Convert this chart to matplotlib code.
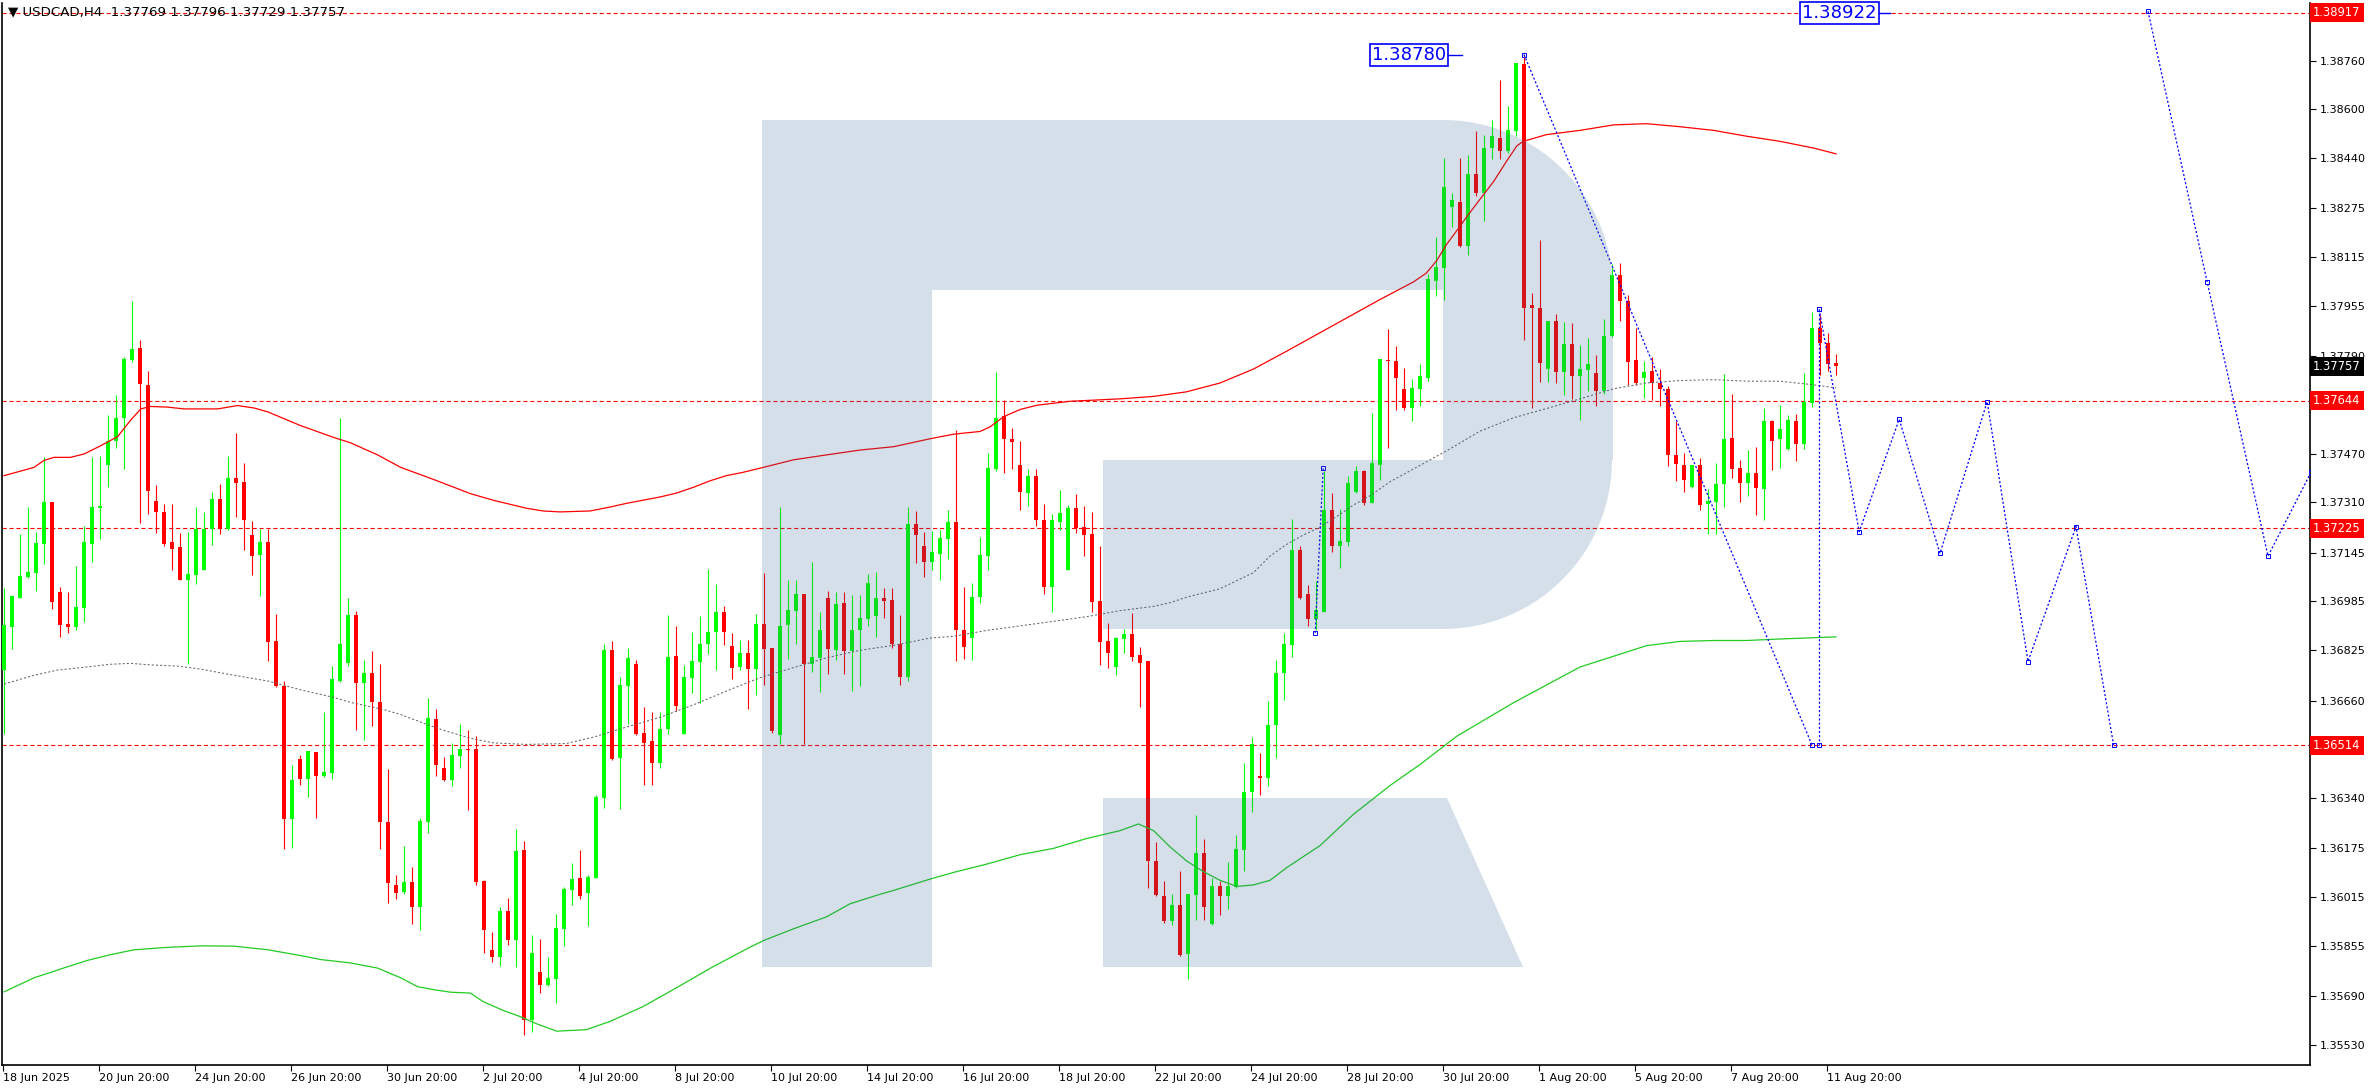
import numpy as np
import matplotlib
matplotlib.use("Agg")
import matplotlib.pyplot as plt
from matplotlib.patches import Polygon

plt.rcParams['font.family'] = ['DejaVu Sans']
plt.rcParams['lines.scale_dashes'] = False

# USDCAD H4 candles, first bar 18 Jun 2025 20:00
opens = [1.36760, 1.36901, 1.36998, 1.37067, 1.37080, 1.37174, 1.37312, 1.37015, 1.36912, 1.36901,
         1.36963, 1.37174, 1.37291, 1.37432, 1.37511, 1.37586, 1.37777, 1.37816, 1.37696, 1.37315,
         1.37279, 1.37180, 1.37164, 1.37057, 1.37073, 1.37089, 1.37224, 1.37321, 1.37224, 1.37390,
         1.37377, 1.37203, 1.37138, 1.37180, 1.36857, 1.36708, 1.36271, 1.36469, 1.36404, 1.36492,
         1.36413, 1.36421, 1.36724, 1.36782, 1.36940, 1.36718, 1.36750, 1.36656, 1.36263, 1.36055,
         1.36033, 1.36065, 1.35981, 1.36263, 1.36599, 1.36437, 1.36398, 1.36479, 1.36502, 1.36502,
         1.36068, 1.35840, 1.35819, 1.35969, 1.35875, 1.36169, 1.35612, 1.35768, 1.35726, 1.35745,
         1.35911, 1.36039, 1.36078, 1.36029, 1.36078, 1.36340, 1.36825, 1.36473, 1.36708, 1.36779,
         1.36553, 1.36528, 1.36456, 1.36567, 1.36805, 1.36550, 1.36734, 1.36786, 1.36844, 1.36884,
         1.36950, 1.36838, 1.36770, 1.36815, 1.36763, 1.36912, 1.36831, 1.36547, 1.36909, 1.36953,
         1.37008, 1.36779, 1.36799, 1.36995, 1.36825, 1.36979, 1.36821, 1.36890, 1.36927, 1.36937,
         1.36998, 1.36989, 1.36847, 1.36737, 1.37239, 1.37167, 1.37116, 1.37141, 1.37190, 1.37245,
         1.36890, 1.36865, 1.36999, 1.37134, 1.37419, 1.37593, 1.37519, 1.37433, 1.37341, 1.37398,
         1.37254, 1.37031, 1.37245, 1.37087, 1.37291, 1.37230, 1.37206, 1.36987, 1.36856, 1.36769,
         1.36861, 1.36879, 1.36810, 1.36790, 1.36132, 1.36019, 1.35937, 1.35989, 1.35827, 1.36022,
         1.36161, 1.35928, 1.36050, 1.36019, 1.36047, 1.36170, 1.36360, 1.36412, 1.36405, 1.36581,
         1.36751, 1.36842, 1.37155, 1.37008, 1.36926, 1.36952, 1.37286, 1.37167, 1.37180, 1.37345,
         1.37413, 1.37308, 1.37433, 1.37777, 1.37774, 1.37682, 1.37620, 1.37682, 1.37720, 1.38036,
         1.38081, 1.38281, 1.38297, 1.38153, 1.38389, 1.38324, 1.38474, 1.38506, 1.38463, 1.38530,
         1.38749, 1.37958, 1.37949, 1.37748, 1.37904, 1.37737, 1.37831, 1.37726, 1.37745, 1.37735,
         1.37676, 1.37857, 1.38058, 1.37971, 1.37777, 1.37720, 1.37740, 1.37702, 1.37682, 1.37467,
         1.37433, 1.37360, 1.37433, 1.37305, 1.37313, 1.37369, 1.37520, 1.37423, 1.37375, 1.37407,
         1.37354, 1.37577, 1.37517, 1.37486, 1.37577, 1.37502, 1.37635, 1.37884, 1.37832, 1.37769]
highs = [1.37028, 1.37007, 1.37206, 1.37295, 1.37213, 1.37458, 1.37312, 1.37034, 1.37015, 1.37102,
         1.37232, 1.37458, 1.37461, 1.37596, 1.37661, 1.37787, 1.37971, 1.37842, 1.37742, 1.37367,
         1.37305, 1.37305, 1.37209, 1.37213, 1.37295, 1.37279, 1.37344, 1.37370, 1.37461, 1.37539,
         1.37441, 1.37248, 1.37222, 1.37224, 1.36943, 1.36724, 1.36450, 1.36482, 1.36495, 1.36492,
         1.36623, 1.36773, 1.37586, 1.36995, 1.36953, 1.36792, 1.36821, 1.36779, 1.36434, 1.36088,
         1.36182, 1.36114, 1.36273, 1.36669, 1.36633, 1.36476, 1.36521, 1.36584, 1.36563, 1.36544,
         1.36072, 1.35901, 1.35981, 1.36013, 1.36237, 1.36198, 1.35892, 1.35878, 1.35817, 1.35960,
         1.36049, 1.36127, 1.36169, 1.36088, 1.36349, 1.36844, 1.36854, 1.36737, 1.36831, 1.36792,
         1.36640, 1.36623, 1.36623, 1.36940, 1.36903, 1.36776, 1.36886, 1.36937, 1.37093, 1.37044,
         1.36969, 1.36880, 1.36860, 1.36860, 1.36943, 1.37080, 1.36834, 1.37295, 1.37057, 1.37054,
         1.37008, 1.37115, 1.36950, 1.37021, 1.37015, 1.37015, 1.37005, 1.37005, 1.37076, 1.37083,
         1.37028, 1.37028, 1.36940, 1.37295, 1.37282, 1.37213, 1.37215, 1.37221, 1.37285, 1.37548,
         1.37033, 1.37045, 1.37196, 1.37473, 1.37737, 1.37647, 1.37554, 1.37512, 1.37419, 1.37419,
         1.37305, 1.37273, 1.37351, 1.37302, 1.37338, 1.37297, 1.37279, 1.37167, 1.36914, 1.36867,
         1.36894, 1.36946, 1.36836, 1.36790, 1.36197, 1.36068, 1.36025, 1.36099, 1.36025, 1.36283,
         1.36205, 1.36077, 1.36068, 1.36131, 1.36218, 1.36456, 1.36540, 1.36488, 1.36659, 1.36793,
         1.36882, 1.37257, 1.37167, 1.37039, 1.37051, 1.37412, 1.37341, 1.37288, 1.37398, 1.37429,
         1.37416, 1.37603, 1.37780, 1.37878, 1.37822, 1.37751, 1.37714, 1.37765, 1.38061, 1.38182,
         1.38442, 1.38325, 1.38439, 1.38451, 1.38530, 1.38517, 1.38566, 1.38696, 1.38612, 1.38752,
         1.38780, 1.37996, 1.38170, 1.37904, 1.37927, 1.37901, 1.37898, 1.37828, 1.37849, 1.37795,
         1.37911, 1.38094, 1.38096, 1.37992, 1.37881, 1.37774, 1.37787, 1.37748, 1.37692, 1.37578,
         1.37471, 1.37433, 1.37457, 1.37354, 1.37439, 1.37730, 1.37667, 1.37449, 1.37482, 1.37493,
         1.37619, 1.37580, 1.37629, 1.37598, 1.37601, 1.37736, 1.37936, 1.37925, 1.37865, 1.37796]
lows = [1.36549, 1.36828, 1.36995, 1.37063, 1.37021, 1.37109, 1.36961, 1.36869, 1.36882, 1.36891,
        1.36917, 1.37115, 1.37190, 1.37360, 1.37490, 1.37420, 1.37771, 1.37242, 1.37271, 1.37209,
        1.37167, 1.37089, 1.37054, 1.36781, 1.37044, 1.37089, 1.37170, 1.37205, 1.37221, 1.37263,
        1.37154, 1.37073, 1.37002, 1.36789, 1.36705, 1.36172, 1.36176, 1.36382, 1.36343, 1.36275,
        1.36408, 1.36401, 1.36721, 1.36773, 1.36563, 1.36531, 1.36576, 1.36172, 1.35997, 1.36010,
        1.36026, 1.35927, 1.35908, 1.36224, 1.36414, 1.36395, 1.36378, 1.36437, 1.36300, 1.36055,
        1.35832, 1.35802, 1.35789, 1.35859, 1.35786, 1.35564, 1.35573, 1.35700, 1.35723, 1.35666,
        1.35856, 1.35989, 1.36010, 1.35921, 1.36078, 1.36307, 1.36466, 1.36304, 1.36584, 1.36547,
        1.36382, 1.36382, 1.36440, 1.36550, 1.36627, 1.36550, 1.36685, 1.36653, 1.36812, 1.36760,
        1.36841, 1.36731, 1.36760, 1.36633, 1.36679, 1.36711, 1.36554, 1.36516, 1.36796, 1.36847,
        1.36516, 1.36753, 1.36688, 1.36747, 1.36792, 1.36747, 1.36692, 1.36708, 1.36903, 1.36870,
        1.36930, 1.36831, 1.36711, 1.36724, 1.37112, 1.37067, 1.37087, 1.37056, 1.37126, 1.36790,
        1.36796, 1.36793, 1.36980, 1.37090, 1.37413, 1.37407, 1.37419, 1.37285, 1.37297, 1.37233,
        1.37010, 1.36949, 1.37221, 1.37087, 1.37209, 1.37134, 1.36949, 1.36778, 1.36766, 1.36743,
        1.36816, 1.36789, 1.36640, 1.36045, 1.36018, 1.35931, 1.35925, 1.35821, 1.35747, 1.35940,
        1.35940, 1.35925, 1.35955, 1.35976, 1.36044, 1.36099, 1.36293, 1.36351, 1.36381, 1.36470,
        1.36663, 1.36802, 1.36993, 1.36903, 1.36891, 1.36949, 1.37146, 1.37096, 1.37167, 1.37342,
        1.37303, 1.37308, 1.37384, 1.37490, 1.37615, 1.37615, 1.37577, 1.37626, 1.37708, 1.37986,
        1.37974, 1.38215, 1.38147, 1.38123, 1.38316, 1.38233, 1.38436, 1.38436, 1.38457, 1.38512,
        1.37843, 1.37619, 1.37705, 1.37705, 1.37701, 1.37661, 1.37651, 1.37580, 1.37676, 1.37625,
        1.37667, 1.37854, 1.37904, 1.37696, 1.37695, 1.37653, 1.37647, 1.37625, 1.37430, 1.37382,
        1.37344, 1.37357, 1.37286, 1.37207, 1.37207, 1.37296, 1.37389, 1.37311, 1.37330, 1.37268,
        1.37251, 1.37417, 1.37424, 1.37482, 1.37445, 1.37484, 1.37623, 1.37727, 1.37742, 1.37729]
closes = [1.36909, 1.37002, 1.37068, 1.37083, 1.37177, 1.37312, 1.36984, 1.36908, 1.36901, 1.36966,
          1.37180, 1.37295, 1.37299, 1.37513, 1.37586, 1.37781, 1.37813, 1.37698, 1.37349, 1.37278,
          1.37174, 1.37157, 1.37057, 1.37076, 1.37224, 1.37224, 1.37321, 1.37224, 1.37390, 1.37375,
          1.37253, 1.37135, 1.37180, 1.36851, 1.36708, 1.36271, 1.36398, 1.36404, 1.36495, 1.36414,
          1.36424, 1.36731, 1.36847, 1.36940, 1.36718, 1.36750, 1.36656, 1.36260, 1.36062, 1.36029,
          1.36065, 1.35981, 1.36266, 1.36602, 1.36447, 1.36398, 1.36482, 1.36502, 1.36497, 1.36065,
          1.35908, 1.35819, 1.35969, 1.35875, 1.36166, 1.35612, 1.35830, 1.35726, 1.35749, 1.35914,
          1.36042, 1.36075, 1.36017, 1.36081, 1.36343, 1.36825, 1.36469, 1.36711, 1.36799, 1.36550,
          1.36521, 1.36456, 1.36567, 1.36802, 1.36643, 1.36737, 1.36789, 1.36847, 1.36886, 1.36950,
          1.36886, 1.36766, 1.36815, 1.36763, 1.36912, 1.36828, 1.36560, 1.36906, 1.36956, 1.37008,
          1.36779, 1.36802, 1.36890, 1.36828, 1.36976, 1.36821, 1.36893, 1.36930, 1.37047, 1.36998,
          1.36985, 1.36844, 1.36737, 1.37239, 1.37203, 1.37115, 1.37148, 1.37193, 1.37245, 1.36890,
          1.36835, 1.36999, 1.37137, 1.37422, 1.37587, 1.37519, 1.37509, 1.37345, 1.37398, 1.37254,
          1.37031, 1.37251, 1.37276, 1.37291, 1.37226, 1.37203, 1.36984, 1.36853, 1.36816, 1.36864,
          1.36879, 1.36804, 1.36784, 1.36132, 1.36022, 1.35937, 1.35989, 1.35824, 1.36025, 1.36161,
          1.35981, 1.36050, 1.36019, 1.36050, 1.36173, 1.36360, 1.36517, 1.36405, 1.36581, 1.36752,
          1.36845, 1.37155, 1.36996, 1.36926, 1.36958, 1.37286, 1.37167, 1.37183, 1.37375, 1.37413,
          1.37308, 1.37438, 1.37780, 1.37773, 1.37720, 1.37620, 1.37685, 1.37726, 1.38042, 1.38084,
          1.38346, 1.38302, 1.38153, 1.38389, 1.38324, 1.38474, 1.38514, 1.38463, 1.38533, 1.38752,
          1.37949, 1.37948, 1.37768, 1.37904, 1.37737, 1.37831, 1.37726, 1.37748, 1.37765, 1.37676,
          1.37857, 1.38058, 1.37971, 1.37771, 1.37702, 1.37737, 1.37702, 1.37682, 1.37467, 1.37435,
          1.37384, 1.37433, 1.37303, 1.37316, 1.37369, 1.37518, 1.37420, 1.37375, 1.37407, 1.37357,
          1.37577, 1.37512, 1.37550, 1.37580, 1.37502, 1.37639, 1.37884, 1.37832, 1.37764, 1.37757]

# upper envelope (red), read at bar positions
red_x = [0, 3.75, 5, 6.25, 8.3, 10, 12, 14.2, 15.8, 17.1, 18.3, 20.4, 22.5, 26.7, 29.2, 31.25, 33, 37,
         41.25, 43.3, 46.7, 49.6, 53.75, 58.3, 61.2, 65.3, 67.4, 69.5, 73.25, 75.75, 77.8, 82, 84.1,
         86.2, 88.25, 90.3, 92.4, 94.9, 98.7, 102.8, 107, 111.2, 115.75, 118.7, 122, 123.25, 125, 127,
         129.1, 133.25, 139.5, 143.7, 147.8, 152, 156.2, 160.3, 164.5, 172, 174.1, 176.2, 177.8, 179.1,
         180.3, 181.6, 182.8, 184.5, 186.2, 187.8, 189.1, 189.9, 192.8, 197, 201.2, 205.3, 209.5,
         213.7, 217.8, 222, 226.2, 229]
red_y = [1.37398, 1.37425, 1.37448, 1.37458, 1.37458, 1.37469, 1.37495, 1.37526, 1.37579, 1.37617,
         1.37625, 1.37623, 1.37617, 1.37617, 1.37628, 1.37620, 1.37607, 1.37563, 1.37523, 1.37506,
         1.37466, 1.37425, 1.37385, 1.37339, 1.37317, 1.37291, 1.37282, 1.37279, 1.37282, 1.37295,
         1.37307, 1.37328, 1.37341, 1.37360, 1.37381, 1.37398, 1.37409, 1.37425, 1.37450, 1.37466,
         1.37482, 1.37493, 1.37519, 1.37534, 1.37543, 1.37558, 1.37592, 1.37615, 1.37629, 1.37642,
         1.37650, 1.37658, 1.37673, 1.37702, 1.37748, 1.37806, 1.37867, 1.37976, 1.38005, 1.38034,
         1.38063, 1.38104, 1.38156, 1.38202, 1.38246, 1.38305, 1.38363, 1.38429, 1.38480, 1.38495,
         1.38517, 1.38531, 1.38549, 1.38553, 1.38543, 1.38531, 1.38512, 1.38495, 1.38473, 1.38454]

# lower envelope (green)
green_x = [0, 3.75, 7.9, 10.4, 13.3, 16.25, 20.4, 24.6, 28.75, 33, 37.1, 39.6, 43.3, 46.7, 49.6,
           51.7, 53.75, 55.8, 58.3, 59.9, 62.4, 64.5, 66.6, 69.1, 72.8, 75.75, 79.9, 84.1, 88.25,
           92.4, 94.9, 98.7, 102.8, 105.75, 109.1, 111.2, 115.75, 118.7, 122.8, 127, 131.2, 135.3,
           139.5, 141.8, 143.7, 145.75, 147.8, 149.9, 152, 154.1, 156.2, 158.25, 160.3, 164.5, 168.7,
           173.25, 177, 181.6, 188.7, 197, 205.3, 209.5, 213.7, 217.8, 222, 229]
green_y = [1.35704, 1.35750, 1.35786, 1.35807, 1.35826, 1.35842, 1.35850, 1.35855, 1.35854, 1.35842,
           1.35823, 1.35810, 1.35799, 1.35782, 1.35750, 1.35721, 1.35711, 1.35703, 1.35700, 1.35672,
           1.35643, 1.35623, 1.35599, 1.35575, 1.35580, 1.35607, 1.35656, 1.35718, 1.35781, 1.35839,
           1.35872, 1.35911, 1.35950, 1.35993, 1.36021, 1.36037, 1.36074, 1.36096, 1.36123, 1.36154,
           1.36175, 1.36207, 1.36233, 1.36255, 1.36233, 1.36180, 1.36134, 1.36099, 1.36070, 1.36050,
           1.36055, 1.36070, 1.36111, 1.36184, 1.36287, 1.36381, 1.36450, 1.36543, 1.36653, 1.36770,
           1.36840, 1.36854, 1.36857, 1.36857, 1.36862, 1.36869]

# middle line (grey dotted)
mid_x = [0, 3.75, 6.7, 10, 13.3, 15.8, 18.3, 21.7, 24.6, 28.75, 33, 37.1, 41.25, 43.3, 47.5, 49.6,
         52.9, 55, 58.3, 61.2, 65.3, 70.3, 73.7, 77.8, 82, 86.2, 90.3, 94.5, 98.7, 102.8, 107, 111.2,
         115.75, 118.7, 122.8, 127, 131.2, 135.3, 139.5, 143.7, 145.75, 147.8, 152, 156.2, 158.25,
         160.3, 162.4, 164.5, 167, 168.7, 170.75, 173.25, 176.2, 180.3, 184.5, 188.7, 192.8, 197,
         201.2, 205.3, 209.5, 213.7, 217.8, 222, 226.2, 229]
mid_y = [1.36714, 1.36743, 1.36760, 1.36769, 1.36779, 1.36782, 1.36777, 1.36773, 1.36763, 1.36743,
         1.36724, 1.36695, 1.36670, 1.36654, 1.36630, 1.36614, 1.36581, 1.36562, 1.36536, 1.36521,
         1.36516, 1.36519, 1.36540, 1.36573, 1.36605, 1.36646, 1.36691, 1.36735, 1.36768, 1.36800,
         1.36825, 1.36841, 1.36865, 1.36871, 1.36890, 1.36905, 1.36920, 1.36935, 1.36955, 1.36969,
         1.36981, 1.36999, 1.37027, 1.37080, 1.37134, 1.37172, 1.37203, 1.37229, 1.37271, 1.37302,
         1.37332, 1.37378, 1.37420, 1.37479, 1.37544, 1.37588, 1.37618, 1.37650, 1.37683, 1.37702,
         1.37710, 1.37713, 1.37708, 1.37708, 1.37696, 1.37686]

# horizontal levels and forecast paths
levels = [1.38917, 1.37644, 1.37225, 1.36514]
last_price = 1.37757
drop_x = [190, 226]
drop_y = [1.38780, 1.36514]
vert_x = [226.9, 226.9]
vert_y = [1.36514, 1.37944]
zig_x = [226.9, 231.9, 236.9, 242, 247.9, 253, 259, 263.7]
zig_y = [1.37944, 1.37214, 1.37583, 1.37143, 1.37641, 1.36788, 1.37231, 1.36514]
far_x = [268, 275.4, 283, 288.4]
far_y = [1.38922, 1.38033, 1.37134, 1.37410]
small_x = [163.9, 164.9]
small_y = [1.36882, 1.37424]

date_labels = ['18 Jun 2025', '20 Jun 20:00', '24 Jun 20:00', '26 Jun 20:00', '30 Jun 20:00',
               '2 Jul 20:00', '4 Jul 20:00', '8 Jul 20:00', '10 Jul 20:00', '14 Jul 20:00',
               '16 Jul 20:00', '18 Jul 20:00', '22 Jul 20:00', '24 Jul 20:00', '28 Jul 20:00',
               '30 Jul 20:00', '1 Aug 20:00', '5 Aug 20:00', '7 Aug 20:00', '11 Aug 20:00']
price_ticks = [1.38760, 1.38600, 1.38440, 1.38275, 1.38115, 1.37955, 1.37790, 1.37470,
               1.37310, 1.37145, 1.36985, 1.36825, 1.36660, 1.36340, 1.36175, 1.36015,
               1.35855, 1.35690, 1.35530]

W, H = 2376, 1090
L, R, T, B = 2, 2310, 3, 1065
fig = plt.figure(figsize=(W / 100, H / 100), dpi=100)
ax = fig.add_axes([L / W, (H - B) / H, (R - L) / W, (B - T) / H])
ax.set_xlim(-0.25, 288.25)
ax.set_ylim(1.35464, 1.38949)


def pix(x, y):
    return ((x - L) / (R - L), (B - y) / (B - T))


o = np.array(opens)
h = np.array(highs)
lo = np.array(lows)
c = np.array(closes)
idx = np.arange(len(o))
col = np.where(c >= o, '#00ff00', '#ff0000')
ax.vlines(idx, lo, h, colors=col, lw=0.8, zorder=3)
ax.bar(idx, np.maximum(np.abs(c - o), 0.00004), bottom=np.minimum(o, c), width=0.62,
       color=col, lw=0, zorder=3)

ax.plot(red_x, red_y, color='#ff0000', lw=0.9, zorder=4)
ax.plot(green_x, green_y, color='#22cc22', lw=0.9, zorder=4)
ax.plot(mid_x, mid_y, color='#666666', lw=0.75, ls=(0, (1.5, 1.5)), zorder=4)

for lv in levels:
    ax.axhline(lv, color='#ff0000', lw=0.8, ls=(0, (3, 2)), zorder=2)

blue = '#0000ff'
for xs, ys in [(drop_x, drop_y), (vert_x, vert_y), (zig_x, zig_y), (far_x, far_y), (small_x, small_y)]:
    ax.plot(xs, ys, color=blue, lw=0.9, ls=(0, (1.5, 1.5)), zorder=5)
    ax.plot(xs, ys, ls='none', marker='s', ms=3.5, mfc='none', mec=blue, mew=0.7, zorder=5)

# watermark logo
wm = [(762, 120), (1443, 120)]
t = np.linspace(0, np.pi / 2, 30)
wm += [(1443 + 170 * np.sin(a), 290 - 170 * np.cos(a)) for a in t]
wm += [(1613, 460)]
wm += [(1443 + 169 * np.cos(a), 460 + 169 * np.sin(a)) for a in t]
wm += [(1103, 629), (1103, 460), (1443, 460), (1443, 290), (932, 290), (932, 967), (762, 967)]
leg = [(1103, 798), (1447, 798), (1523, 967), (1103, 967)]
for shape in (wm, leg):
    ax.add_patch(Polygon([pix(x, y) for x, y in shape], closed=True, transform=ax.transAxes,
                         fc=(49 / 255, 98 / 255, 147 / 255), alpha=0.2, ec='none', zorder=6))

# price boxes on forecast
ax.text(*pix(1446, 55), '1.38780', transform=ax.transAxes, ha='right', va='center',
        fontsize=13, color=blue, zorder=8,
        bbox=dict(boxstyle='square,pad=0.12', fc='white', ec=blue, lw=1.2))
ax.plot([pix(1448, 55)[0], pix(1462, 55)[0]], [pix(0, 55)[1]] * 2, color=blue, lw=1,
        transform=ax.transAxes, zorder=8)
ax.text(*pix(1877, 13), '1.38922', transform=ax.transAxes, ha='right', va='center',
        fontsize=13, color=blue, zorder=8, clip_on=False,
        bbox=dict(boxstyle='square,pad=0.12', fc='white', ec=blue, lw=1.2))
ax.plot([pix(1879, 13)[0], pix(1890, 13)[0]], [pix(0, 13)[1]] * 2, color=blue, lw=1,
        transform=ax.transAxes, zorder=8)

ax.text(*pix(8, 12), '\u25bc USDCAD,H4  1.37769 1.37796 1.37729 1.37757', transform=ax.transAxes,
        ha='left', va='center', fontsize=9.6, color='black', zorder=9)

# axes
ax.spines['top'].set_visible(False)
for s in ['left', 'bottom', 'right']:
    ax.spines[s].set_color('black')
    ax.spines[s].set_linewidth(1.2)
ax.yaxis.tick_right()
ax.set_yticks(price_ticks)
ax.set_yticklabels([f'{v:.5f}' for v in price_ticks])
ax.tick_params(axis='y', length=4, width=0.8, pad=3, labelsize=8, colors='black')
ax.set_xticks(np.arange(len(date_labels)) * 12 - 0.125)
ax.set_xticklabels(date_labels, ha='left')
ax.tick_params(axis='x', length=4, width=0.8, pad=2, labelsize=8, colors='black')

ytr = ax.get_yaxis_transform()
for lv in levels:
    ax.text(1.0014, lv, f'{lv:.5f}', transform=ytr, ha='left', va='center', fontsize=8.3,
            color='white', zorder=10, clip_on=False,
            bbox=dict(boxstyle='square,pad=0.26', fc='#ff0000', ec='none'))
ax.text(1.0014, last_price, f'{last_price:.5f}', transform=ytr, ha='left', va='center', fontsize=8.3,
        color='white', zorder=10, clip_on=False,
        bbox=dict(boxstyle='square,pad=0.26', fc='black', ec='none'))

fig.savefig('out.png', dpi=100, facecolor='white')
